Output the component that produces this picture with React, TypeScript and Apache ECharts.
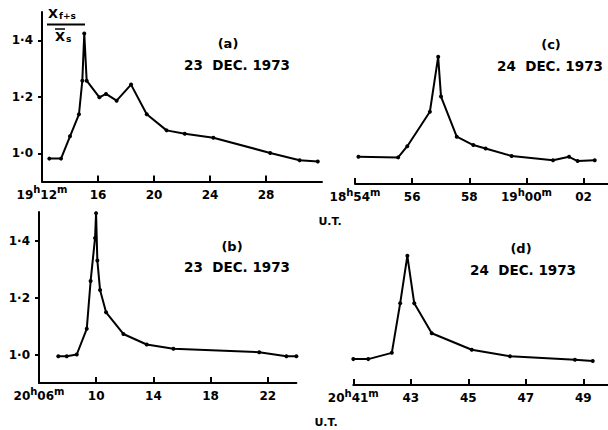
import { useEffect, useRef } from "react";
import * as echarts from "echarts";

// Panel (a) 23 Dec 1973, 19h12m onward (minutes)
const tA = [12.52, 13.36, 14.0, 14.64, 14.88, 15.02, 15.19, 16.1, 16.57, 17.33, 18.36, 19.48, 20.9, 22.2, 24.24, 28.3, 30.4, 31.7];
const vA = [0.981, 0.981, 1.06, 1.138, 1.257, 1.424, 1.257, 1.198, 1.21, 1.186, 1.243, 1.138, 1.081, 1.069, 1.055, 1.001, 0.975, 0.971];
// Panel (b) 23 Dec 1973, 20h06m onward
const tB = [7.35, 7.94, 8.64, 9.34, 9.61, 9.92, 9.99, 10.08, 10.27, 10.69, 11.9, 13.53, 15.4, 21.4, 23.3, 24.0];
const vB = [0.994, 0.994, 1.0, 1.09, 1.258, 1.409, 1.496, 1.33, 1.226, 1.148, 1.072, 1.035, 1.02, 1.008, 0.994, 0.994];
// Panel (c) 24 Dec 1973, 18h54m onward (minutes past 18h, >60 = 19h)
const tC = [54.12, 55.51, 55.83, 56.62, 56.91, 57.01, 57.56, 58.14, 58.57, 59.48, 60.93, 61.49, 61.79, 62.39];
const vC = [0.983, 0.981, 1.021, 1.144, 1.34, 1.198, 1.055, 1.025, 1.013, 0.986, 0.971, 0.983, 0.968, 0.971];
// Panel (d) 24 Dec 1973, 20h41m onward
const tD = [41.0, 41.52, 42.34, 42.63, 42.88, 43.12, 43.73, 45.12, 46.45, 48.71, 49.33];
const vD = [0.983, 0.983, 1.005, 1.179, 1.346, 1.179, 1.074, 1.016, 0.993, 0.981, 0.976];

const yTicks = [1.0, 1.2, 1.4];
const xTicksA = [12, 16, 20, 24, 28];
const xLabelsA = ["19h12m", "16", "20", "24", "28"];
const xTicksB = [6, 10, 14, 18, 22];
const xLabelsB = ["20h06m", "10", "14", "18", "22"];
const xTicksC = [54, 56, 58, 60, 62];
const xLabelsC = ["18h54m", "56", "58", "19h00m", "02"];
const xTicksD = [41, 43, 45, 47, 49];
const xLabelsD = ["20h41m", "43", "45", "47", "49"];

const FONT = "DejaVu Sans";
const INK = "#000";

function fmtX(ticks: number[], labels: string[]) {
  return (v: number) => {
    const i = ticks.findIndex((t) => Math.abs(t - v) < 1e-6);
    if (i < 0) return "";
    const s = labels[i];
    const m = s.match(/^(\d+)h(\d+)m$/);
    if (m) return `{n|${m[1]}}{s|h}{n|${m[2]}}{s|m}`;
    return `{n|${s}}`;
  };
}

const rich = {
  n: { fontFamily: FONT, fontWeight: "bold", fontSize: 12, color: INK, lineHeight: 16, verticalAlign: "bottom" },
  s: { fontFamily: FONT, fontWeight: "bold", fontSize: 10, color: INK, lineHeight: 11, verticalAlign: "top" },
};

function xAxis(grid: number, min: number, max: number, ticks: number[], labels: string[]) {
  return {
    type: "value",
    gridIndex: grid,
    min,
    max,
    splitLine: { show: false },
    axisLine: { show: true, lineStyle: { color: INK, width: 2 } },
    axisTick: { show: true, inside: true, length: 6, lineStyle: { color: INK, width: 2 }, customValues: ticks },
    axisLabel: { show: true, margin: 3, formatter: fmtX(ticks, labels), rich, customValues: ticks },
  };
}

function yAxis(grid: number, min: number, max: number, show: boolean) {
  return {
    type: "value",
    gridIndex: grid,
    min,
    max,
    show,
    splitLine: { show: false },
    axisLine: { show: true, lineStyle: { color: INK, width: 2 } },
    axisTick: { show: true, length: 4, lineStyle: { color: INK, width: 2 }, customValues: yTicks },
    axisLabel: {
      show: true,
      margin: 9,
      color: INK,
      fontFamily: FONT,
      fontWeight: "bold",
      fontSize: 12,
      customValues: yTicks,
      formatter: (v: number) => v.toFixed(1).replace(".", "·"),
    },
  };
}

function series(i: number, t: number[], v: number[]) {
  return {
    type: "line",
    xAxisIndex: i,
    yAxisIndex: i,
    data: t.map((x, k) => [x, v[k]]),
    symbol: "circle",
    symbolSize: 4,
    showSymbol: true,
    itemStyle: { color: INK },
    lineStyle: { color: INK, width: 2 },
    clip: false,
  };
}

function txt(x: number, y: number, text: string, size: number, align = "center") {
  return {
    type: "text",
    x,
    y,
    style: { text, fill: INK, font: `bold ${size}px "${FONT}"`, textAlign: align, textVerticalAlign: "middle" },
  };
}

export default function App() {
  const ref = useRef<HTMLDivElement>(null);
  useEffect(() => {
    if (!ref.current) return;
    const chart = echarts.init(ref.current, null, { renderer: "svg" });
    chart.setOption({
      animation: false,
      backgroundColor: "#fff",
      grid: [
        { left: 42, top: 12, width: 280, height: 169.5 },
        { left: 39, top: 212, width: 257.4, height: 171 },
        { left: 355, top: 12, width: 252.9, height: 172 },
        { left: 353.3, top: 212, width: 254.7, height: 173 },
      ],
      xAxis: [
        xAxis(0, 12, 32, xTicksA, xLabelsA),
        xAxis(1, 6, 24, xTicksB, xLabelsB),
        xAxis(2, 54, 62.85, xTicksC, xLabelsC),
        xAxis(3, 41, 49.86, xTicksD, xLabelsD),
      ],
      yAxis: [yAxis(0, 0.9, 1.5, true), yAxis(1, 0.9, 1.5, true), yAxis(2, 0.886, 1.5, false), yAxis(3, 0.892, 1.5, false)],
      series: [series(0, tA, vA), series(1, tB, vB), series(2, tC, vC), series(3, tD, vD)],
      graphic: [
        txt(228, 43, "(a)", 13),
        txt(237, 65, "23  DEC. 1973", 13.5),
        txt(232, 246, "(b)", 13),
        txt(237, 267, "23  DEC. 1973", 13.5),
        txt(551, 44, "(c)", 13),
        txt(497, 66, "24  DEC. 1973", 13.5, "left"),
        txt(521, 248, "(d)", 13),
        txt(523, 270, "24  DEC. 1973", 13.5),
        txt(330, 221, "U.T.", 11),
        txt(326, 422, "U.T.", 11),
        txt(48, 13, "X", 13, "left"),
        txt(59, 16, "f+s", 9, "left"),
        { type: "line", shape: { x1: 47, y1: 24.5, x2: 85, y2: 24.5 }, style: { stroke: INK, lineWidth: 2 } },
        txt(55, 36, "X", 13, "left"),
        txt(66, 39, "s", 9, "left"),
        { type: "line", shape: { x1: 55, y1: 29, x2: 65, y2: 29 }, style: { stroke: INK, lineWidth: 1.5 } },
      ],
    });
    return () => chart.dispose();
  }, []);
  return <div ref={ref} style={{ position: "fixed", left: 0, top: 0, width: 608, height: 430 }} />;
}
